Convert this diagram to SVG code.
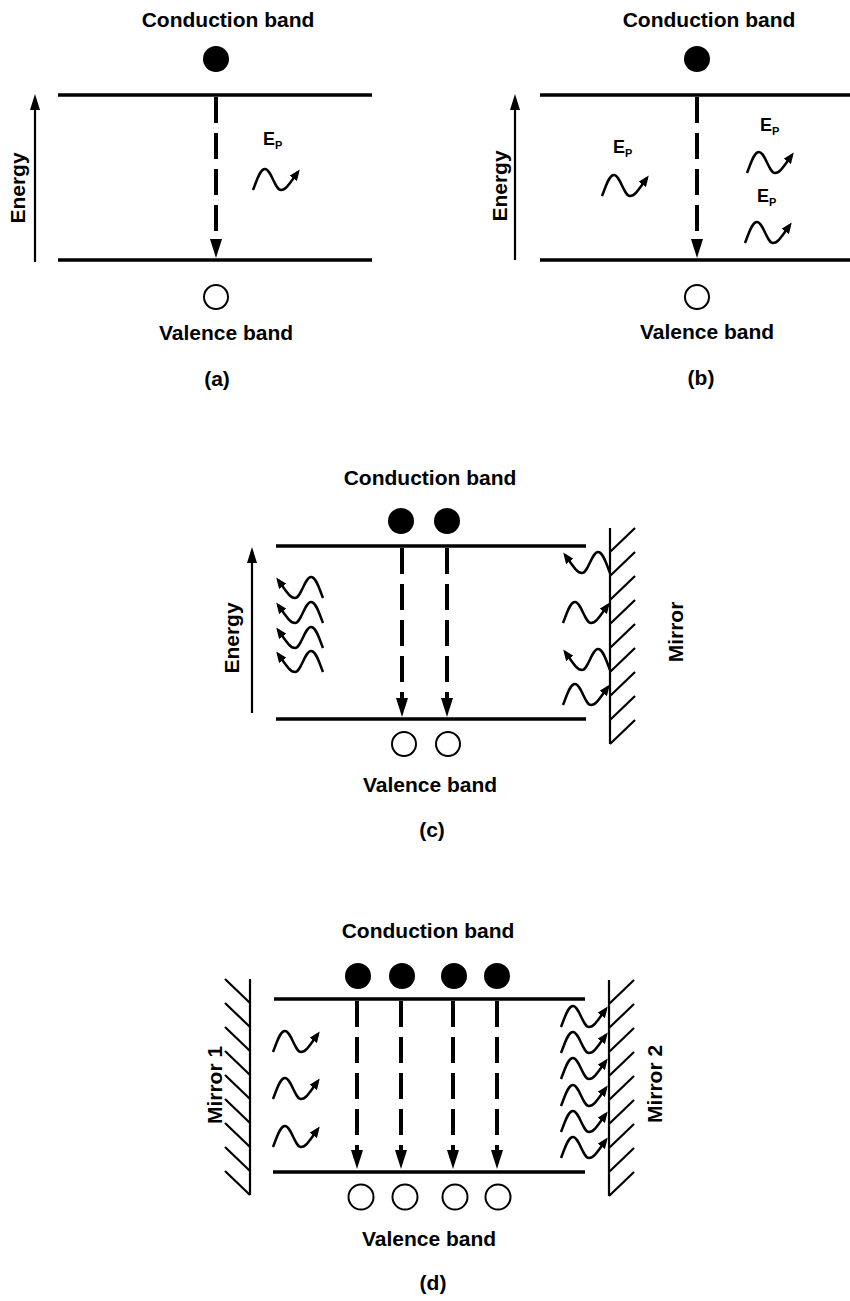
<svg xmlns="http://www.w3.org/2000/svg" width="850" height="1301" viewBox="0 0 850 1301">
<style>
.t{font-family:"Liberation Sans",Arial,Helvetica,sans-serif;font-weight:bold;font-size:21px;fill:#000;text-anchor:middle}
.ep{font-family:"Liberation Sans",Arial,Helvetica,sans-serif;font-weight:bold;font-size:18px;fill:#000}
.band{stroke:#000;stroke-width:3.5;fill:none}
.trans{stroke:#000;stroke-width:4;stroke-dasharray:26 10;fill:none;marker-end:url(#ah)}
.axis{stroke:#000;stroke-width:2.2;fill:none;marker-end:url(#ax)}
.e{fill:#000}
.h{fill:#fff;stroke:#000;stroke-width:2}
.wave{fill:none;stroke:#000;stroke-width:2.5;marker-end:url(#wh)}
.mir{stroke:#000;stroke-width:2.2;fill:none}
</style>
<defs>
<marker id="ah" markerUnits="userSpaceOnUse" markerWidth="20" markerHeight="12" refX="11" refY="6" orient="auto"><path d="M0,0 L19,6 L0,12 Z" fill="#000"/></marker>
<marker id="ax" markerUnits="userSpaceOnUse" markerWidth="16" markerHeight="10" refX="12" refY="5" orient="auto"><path d="M0,0 L16,5 L0,10 Z" fill="#000"/></marker>
<marker id="wh" markerUnits="userSpaceOnUse" markerWidth="12" markerHeight="9" refX="8" refY="4.5" orient="auto"><path d="M0,0 L11,4.5 L0,9 Z" fill="#000"/></marker>
<path id="wv" class="wave" d="M0,22 C4,12 7,1 12,1 C18,1 22,22 28,22 C33,22 37,15 45,4"/>
<path id="mirror" class="mir" d="M0,0 V216 M0,24L25,0M0,48L25,24M0,72L25,48M0,96L25,72M0,120L25,96M0,144L25,120M0,168L25,144M0,192L25,168M0,216L25,192"/>
</defs>
<rect width="850" height="1301" fill="#fff"/>

<!-- Panel (a) -->
<g id="a-conduction-band"><text class="t" x="228" y="27">Conduction band</text><line class="band" x1="58" y1="95" x2="372" y2="95"/></g>
<g id="a-electron"><circle class="e" cx="216" cy="59" r="13"/></g>
<g id="a-valence-band"><line class="band" x1="58" y1="260" x2="372" y2="260"/><text class="t" x="226" y="340">Valence band</text></g>
<g id="a-hole"><circle class="h" cx="216" cy="297" r="12"/></g>
<g id="a-energy"><line class="axis" x1="35" y1="262" x2="35" y2="98"/><text class="t" transform="translate(25,188) rotate(-90)">Energy</text></g>
<g id="a-photon"><text class="ep" x="263" y="145">E<tspan font-size="11" dy="3.5">P</tspan></text><use href="#wv" transform="translate(253,168)"/></g>
<g id="a-caption"><text class="t" x="217" y="386">(a)</text></g>

<!-- Panel (b) -->
<g id="b-conduction-band"><text class="t" x="709" y="27">Conduction band</text><line class="band" x1="540" y1="95" x2="850" y2="95"/></g>
<g id="b-electron"><circle class="e" cx="697" cy="59" r="13"/></g>
<g id="b-valence-band"><line class="band" x1="540" y1="260" x2="850" y2="260"/><text class="t" x="707" y="339">Valence band</text></g>
<g id="b-hole"><circle class="h" cx="697" cy="297" r="12"/></g>
<g id="b-energy"><line class="axis" x1="515" y1="260" x2="515" y2="98"/><text class="t" transform="translate(507,186) rotate(-90)">Energy</text></g>
<g id="b-photon-1"><text class="ep" x="613" y="153">E<tspan font-size="11" dy="3.5">P</tspan></text><use href="#wv" transform="translate(602,174)"/></g>
<g id="b-photon-2"><text class="ep" x="760" y="131">E<tspan font-size="11" dy="3.5">P</tspan></text><use href="#wv" transform="translate(747,151)"/></g>
<g id="b-photon-3"><text class="ep" x="757" y="202">E<tspan font-size="11" dy="3.5">P</tspan></text><use href="#wv" transform="translate(745,221)"/></g>
<g id="b-caption"><text class="t" x="701" y="385">(b)</text></g>

<!-- Panel (c) -->
<g id="c-conduction-band"><text class="t" x="430" y="485">Conduction band</text><line class="band" x1="276" y1="546" x2="586" y2="546"/></g>
<g id="c-electrons"><circle class="e" cx="401" cy="521" r="13"/><circle class="e" cx="447" cy="521" r="13"/></g>
<g id="c-valence-band"><line class="band" x1="276" y1="719" x2="586" y2="719"/><text class="t" x="430" y="792">Valence band</text></g>
<g id="c-holes"><circle class="h" cx="404" cy="744" r="12"/><circle class="h" cx="448" cy="744" r="12"/></g>
<g id="c-energy"><line class="axis" x1="252" y1="713" x2="252" y2="551"/><text class="t" transform="translate(239,638) rotate(-90)">Energy</text></g>
<g id="c-photons-left">
<use href="#wv" transform="translate(323,576) scale(-1,1)"/>
<use href="#wv" transform="translate(323,601) scale(-1,1)"/>
<use href="#wv" transform="translate(323,626) scale(-1,1)"/>
<use href="#wv" transform="translate(323,650) scale(-1,1)"/>
</g>
<g id="c-photons-right">
<use href="#wv" transform="translate(610,551) scale(-1,1)"/>
<use href="#wv" transform="translate(563,601)"/>
<use href="#wv" transform="translate(610,648) scale(-1,1)"/>
<use href="#wv" transform="translate(563,683)"/>
</g>
<g id="c-mirror"><use href="#mirror" transform="translate(610,528)"/><text class="t" transform="translate(683,632) rotate(-90)">Mirror</text></g>
<g id="c-caption"><text class="t" x="432" y="837">(c)</text></g>

<!-- Panel (d) -->
<g id="d-conduction-band"><text class="t" x="428" y="938">Conduction band</text><line class="band" x1="274" y1="999" x2="585" y2="999"/></g>
<g id="d-electrons"><circle class="e" cx="358" cy="976" r="13"/><circle class="e" cx="402" cy="976" r="13"/><circle class="e" cx="454" cy="976" r="13"/><circle class="e" cx="497" cy="976" r="13"/></g>
<g id="d-valence-band"><line class="band" x1="273" y1="1172" x2="585" y2="1172"/><text class="t" x="429" y="1246">Valence band</text></g>
<g id="d-holes"><circle class="h" cx="361" cy="1197" r="12.5"/><circle class="h" cx="405" cy="1197" r="12.5"/><circle class="h" cx="455" cy="1197" r="12.5"/><circle class="h" cx="498" cy="1197" r="12.5"/></g>
<g id="d-photons-left">
<use href="#wv" transform="translate(273,1030)"/>
<use href="#wv" transform="translate(273,1077)"/>
<use href="#wv" transform="translate(273,1125)"/>
</g>
<g id="d-photons-right">
<use href="#wv" transform="translate(561,1005)"/>
<use href="#wv" transform="translate(561,1031)"/>
<use href="#wv" transform="translate(561,1057)"/>
<use href="#wv" transform="translate(561,1084)"/>
<use href="#wv" transform="translate(561,1110)"/>
<use href="#wv" transform="translate(561,1136)"/>
</g>
<g id="d-mirror-1"><use href="#mirror" transform="translate(250,979) scale(-1,1)"/><text class="t" transform="translate(222,1085) rotate(-90)">Mirror 1</text></g>
<g id="d-mirror-2"><use href="#mirror" transform="translate(609,980)"/><text class="t" transform="translate(662,1084) rotate(-90)">Mirror 2</text></g>
<g id="d-caption"><text class="t" x="433" y="1290">(d)</text></g>

<!-- Connectors: electron-hole recombination transitions -->
<g id="connectors">
<line class="trans" x1="216" y1="97" x2="216" y2="250"/>
<line class="trans" x1="697" y1="97" x2="697" y2="250"/>
<line class="trans" x1="402" y1="548" x2="402" y2="709"/>
<line class="trans" x1="447" y1="548" x2="447" y2="709"/>
<line class="trans" x1="357" y1="1001" x2="357" y2="1161"/>
<line class="trans" x1="401" y1="1001" x2="401" y2="1161"/>
<line class="trans" x1="453" y1="1001" x2="453" y2="1161"/>
<line class="trans" x1="497" y1="1001" x2="497" y2="1161"/>
</g>
</svg>
